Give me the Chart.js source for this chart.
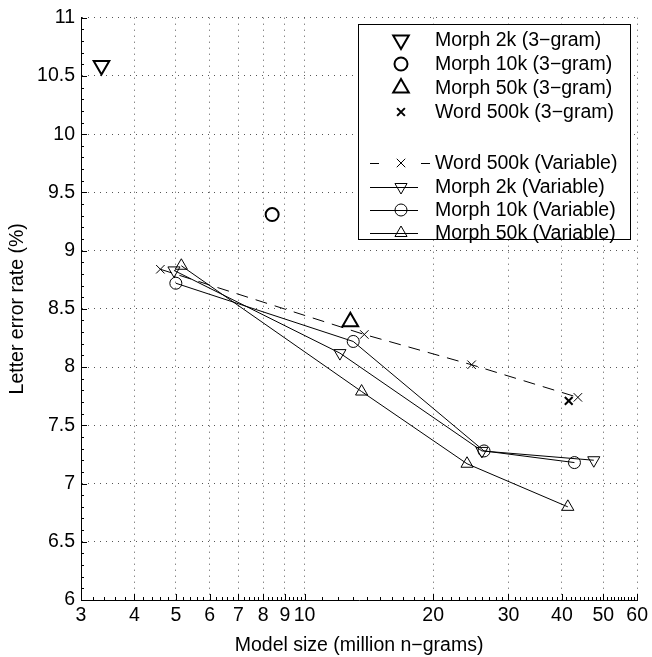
<!DOCTYPE html>
<html>
<head>
<meta charset="utf-8">
<script src="https://cdn.jsdelivr.net/npm/chart.js@4/dist/chart.umd.min.js"></script>
<style>
  html, body { margin: 0; padding: 0; background: #fff; }
  canvas { display: block; }
</style>
</head>
<body>
<canvas id="myChart" width="652" height="657"></canvas>
<script>
// axis ticks
const xTicks = [3, 4, 5, 6, 7, 8, 9, 10, 20, 30, 40, 50, 60];
const yTicks = [6, 6.5, 7, 7.5, 8, 8.5, 9, 9.5, 10, 10.5, 11];

// single 3-gram models
const morph2kTriX = [3.35];
const morph2kTriY = [10.59];
const morph10kTriX = [8.4];
const morph10kTriY = [9.31];
const morph50kTriX = [12.8];
const morph50kTriY = [8.39];
const word500kTriX = [41.5];
const word500kTriY = [7.71];

// variable order models
const word500kVarX = [4.6, 13.8, 24.6, 43.6];
const word500kVarY = [8.84, 8.28, 8.02, 7.74];
const morph2kVarX = [4.95, 12.1, 26.0, 47.5];
const morph2kVarY = [8.83, 8.12, 7.28, 7.2];
const morph10kVarX = [5.0, 13.0, 26.3, 42.8];
const morph10kVarY = [8.72, 8.22, 7.28, 7.18];
const morph50kVarX = [5.15, 13.6, 24.0, 41.3];
const morph50kVarY = [8.87, 7.79, 7.17, 6.8];

const pts = (xs, ys) => xs.map((v, i) => ({ x: v, y: ys[i] }));

const FONT = "'Liberation Sans', Arial, Helvetica, sans-serif";
Chart.defaults.font.family = FONT;
Chart.defaults.font.size = 19.5;
Chart.defaults.color = '#000';

const none = 'rgba(0,0,0,0)';

const datasets = [
  { label: 'Morph 2k (3\u2212gram)', data: pts(morph2kTriX, morph2kTriY), showLine: false,
    pointStyle: 'triangle', pointRotation: 180, pointRadius: 9, pointBorderWidth: 2 },
  { label: 'Morph 10k (3\u2212gram)', data: pts(morph10kTriX, morph10kTriY), showLine: false,
    pointStyle: 'circle', pointRadius: 6.5, pointBorderWidth: 2 },
  { label: 'Morph 50k (3\u2212gram)', data: pts(morph50kTriX, morph50kTriY), showLine: false,
    pointStyle: 'triangle', pointRotation: 0, pointRadius: 9, pointBorderWidth: 2 },
  { label: 'Word 500k (3\u2212gram)', data: pts(word500kTriX, word500kTriY), showLine: false,
    pointStyle: 'crossRot', pointRadius: 5.5, pointBorderWidth: 2 },
  { label: 'Word 500k (Variable)', data: pts(word500kVarX, word500kVarY), showLine: true,
    borderDash: [12, 8], pointStyle: 'crossRot', pointRadius: 6, pointBorderWidth: 1 },
  { label: 'Morph 2k (Variable)', data: pts(morph2kVarX, morph2kVarY), showLine: true,
    pointStyle: 'triangle', pointRotation: 180, pointRadius: 7, pointBorderWidth: 1 },
  { label: 'Morph 10k (Variable)', data: pts(morph10kVarX, morph10kVarY), showLine: true,
    pointStyle: 'circle', pointRadius: 6, pointBorderWidth: 1 },
  { label: 'Morph 50k (Variable)', data: pts(morph50kVarX, morph50kVarY), showLine: true,
    pointStyle: 'triangle', pointRotation: 0, pointRadius: 7, pointBorderWidth: 1 },
];
datasets.forEach(d => {
  d.borderColor = '#000';
  d.borderWidth = 1;
  d.backgroundColor = none;
  d.pointBackgroundColor = none;
  d.pointBorderColor = '#000';
  d.pointHoverRadius = d.pointRadius;
});

// inward major/minor ticks, matlab style
const axisTicks = {
  id: 'axisTicks',
  afterDatasetsDraw(chart) {
    const { ctx, chartArea: a, scales: { x, y } } = chart;
    const xMinor = [];
    for (let v = 3.2; v < 10; v += 0.2) xMinor.push(v);
    for (let v = 11; v < 60; v++) if (v % 10) xMinor.push(v);
    const yMinor = [];
    for (let v = 6.1; v < 11; v += 0.1) yMinor.push(v);
    ctx.save();
    ctx.strokeStyle = '#000';
    ctx.lineWidth = 1;
    ctx.beginPath();
    const xt = (v, len) => {
      const px = Math.round(x.getPixelForValue(v)) + 0.5;
      ctx.moveTo(px, a.bottom); ctx.lineTo(px, a.bottom - len);
    };
    const yt = (v, len) => {
      const py = Math.round(y.getPixelForValue(v)) + 0.5;
      ctx.moveTo(a.left, py); ctx.lineTo(a.left + len, py);
    };
    xTicks.forEach(v => xt(v, 6));
    xMinor.forEach(v => xt(v, 3));
    yTicks.forEach(v => yt(v, 6));
    yMinor.forEach(v => yt(v, 3));
    ctx.stroke();
    ctx.restore();
  }
};

// boxed legend inside the axes, with a blank row between the groups
const boxLegend = {
  id: 'boxLegend',
  afterDraw(chart) {
    const { ctx } = chart;
    const rows = [40, 64, 88, 112, 163, 187, 210, 233];
    ctx.save();
    ctx.fillStyle = '#fff';
    ctx.fillRect(358, 24, 272, 215);
    ctx.strokeStyle = '#000';
    ctx.lineWidth = 1;
    ctx.strokeRect(358.5, 24.5, 272, 215);
    chart.data.datasets.forEach((d, i) => {
      const yy = rows[i];
      ctx.strokeStyle = '#000';
      if (d.showLine) {
        ctx.lineWidth = 1;
        ctx.beginPath();
        if (d.borderDash) {
          ctx.moveTo(370, yy + 0.5); ctx.lineTo(379, yy + 0.5);
          ctx.moveTo(421, yy + 0.5); ctx.lineTo(430, yy + 0.5);
        } else {
          ctx.moveTo(370, yy + 0.5); ctx.lineTo(418, yy + 0.5);
        }
        ctx.stroke();
      }
      ctx.fillStyle = none;
      ctx.lineWidth = d.pointBorderWidth;
      Chart.helpers.drawPoint(ctx, {
        pointStyle: d.pointStyle,
        rotation: d.pointRotation || 0,
        radius: d.pointRadius,
        borderWidth: d.pointBorderWidth
      }, 401, yy);
      ctx.fillStyle = '#000';
      ctx.font = '19.5px ' + FONT;
      ctx.textAlign = 'left';
      ctx.textBaseline = 'middle';
      ctx.fillText(d.label, 435, yy + 1);
    });
    ctx.restore();
  }
};

const gridStyle = { color: '#555', lineWidth: 1, drawTicks: false };
const borderStyle = { display: true, color: '#000', width: 1, dash: [1, 5] };

const config = {
  type: 'scatter',
  data: { datasets: datasets },
  options: {
    responsive: false,
    animation: false,
    events: [],
    layout: { padding: { left: 0, right: 13, top: 14, bottom: 0 } },
    plugins: { legend: { display: false }, tooltip: { enabled: false } },
    scales: {
      x: {
        type: 'logarithmic',
        min: 3,
        max: 60,
        afterBuildTicks: s => { s.ticks = xTicks.map(v => ({ value: v })); },
        afterFit: s => { s.height = 57; },
        ticks: { autoSkip: false, maxRotation: 0, padding: 4, callback: v => String(v) },
        grid: gridStyle,
        border: borderStyle,
        title: { display: true, text: 'Model size (million n\u2212grams)', padding: { top: 9, bottom: 0 } }
      },
      y: {
        type: 'linear',
        min: 6,
        max: 11,
        afterBuildTicks: s => { s.ticks = yTicks.map(v => ({ value: v })); },
        afterFit: s => { s.width = 81; },
        ticks: { padding: 6, callback: v => String(v) },
        grid: gridStyle,
        border: borderStyle,
        title: { display: true, text: 'Letter error rate (%)', padding: { top: 6, bottom: 0 } }
      }
    }
  },
  plugins: [axisTicks, boxLegend]
};

const ctx = document.getElementById('myChart').getContext('2d');
const myChart = new Chart(ctx, config);
</script>
</body>
</html>
